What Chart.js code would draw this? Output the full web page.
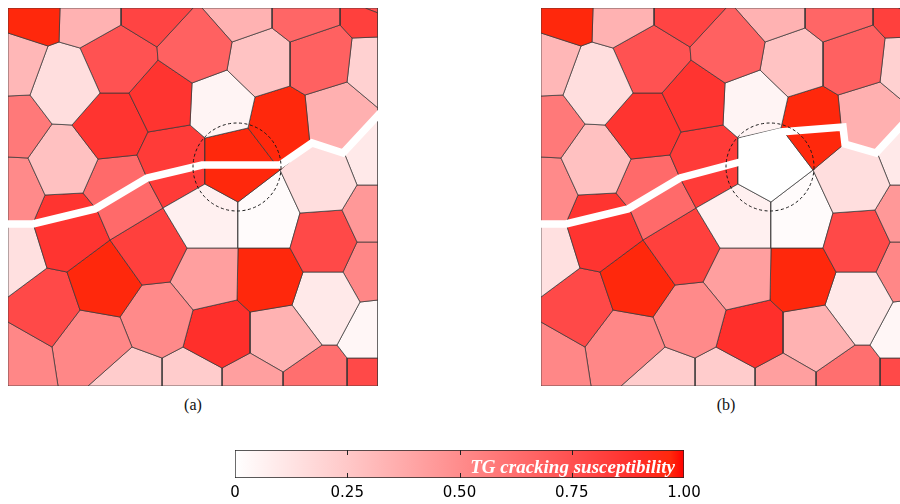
<!DOCTYPE html>
<html>
<head>
<meta charset="utf-8">
<title>TG cracking susceptibility</title>
<script src="https://cdn.jsdelivr.net/npm/chart.js@4.4.1/dist/chart.umd.min.js"></script>
<style>
  html, body { margin: 0; padding: 0; background: #fff; }
  body { width: 900px; height: 504px; overflow: hidden; position: relative; }
  canvas { position: absolute; }
  #panelA { left: 4px; top: 4px; }
  #panelB { left: 537px; top: 4px; }
  #colorbar { left: 215px; top: 444px; }
  .caption { position: absolute; top: 396px; width: 40px; text-align: center;
             font: 16px/18px "Liberation Serif", "DejaVu Serif", serif; color: #111; }
  #capA { left: 173px; }
  #capB { left: 706px; }
  #cbTitle { position: absolute; right: 225px; top: 457px; white-space: nowrap;
             font: italic bold 19px/19px "Liberation Serif", serif; color: #fff; }
</style>
</head>
<body>
<canvas id="panelA" width="378" height="386"></canvas>
<canvas id="panelB" width="378" height="386"></canvas>
<canvas id="colorbar" width="500" height="56"></canvas>
<div class="caption" id="capA">(a)</div>
<div class="caption" id="capB">(b)</div>
<div id="cbTitle">TG cracking susceptibility</div>
<script>
// Grain outlines of the polycrystal (x right, y down, same units in both panels)
const grainOutlines = [
  [[0,0],[52,0],[51,34],[40,38],[0,25]],
  [[52,0],[113,0],[113,17],[72,40],[51,34]],
  [[113,0],[185,0],[149,39],[113,17]],
  [[185,0],[194,0],[224,34],[219,62],[184,75],[150,52],[149,39]],
  [[194,0],[264,0],[264,20],[224,34]],
  [[264,0],[332,0],[332,17],[282,34],[264,20]],
  [[332,0],[357,0],[370,5],[370,29],[344,30],[332,17]],
  [[357,0],[370,0],[370,5]],
  [[0,25],[40,38],[22,87],[0,88]],
  [[40,38],[51,34],[72,40],[92,85],[64,117],[44,116],[22,87]],
  [[72,40],[113,17],[149,39],[150,52],[121,85],[92,85]],
  [[150,52],[184,75],[182,117],[140,124],[121,85]],
  [[224,34],[264,20],[282,34],[282,78],[247,89],[219,62]],
  [[282,34],[332,17],[344,30],[339,74],[297,87],[282,78]],
  [[344,30],[370,29],[370,100],[339,74]],
  [[184,75],[219,62],[247,89],[240,120],[197,130],[182,117]],
  [[247,89],[282,78],[297,87],[302,137],[272,162],[240,120]],
  [[197,130],[240,120],[272,162],[230,194],[197,176]],
  [[297,87],[339,74],[370,100],[370,106],[335,142],[302,137]],
  [[302,137],[335,142],[349,177],[334,202],[292,205],[272,162]],
  [[335,142],[370,106],[370,177],[349,177]],
  [[349,177],[370,177],[370,234],[349,234],[334,202]],
  [[292,205],[334,202],[349,234],[335,264],[295,264],[282,240]],
  [[230,194],[272,162],[292,205],[282,240],[230,240]],
  [[155,200],[197,176],[230,194],[230,240],[179,240]],
  [[140,124],[182,117],[197,130],[197,176],[155,200],[139,170],[129,147]],
  [[92,85],[121,85],[140,124],[129,147],[90,151],[64,117]],
  [[0,88],[22,87],[44,116],[20,150],[0,149]],
  [[44,116],[64,117],[90,151],[75,185],[37,187],[20,150]],
  [[0,149],[20,150],[37,187],[25,215],[0,214]],
  [[90,151],[129,147],[139,170],[155,200],[102,232],[89,202],[75,185]],
  [[37,187],[75,185],[89,202],[102,232],[59,264],[39,260],[25,215]],
  [[0,214],[25,215],[39,260],[0,289]],
  [[102,232],[155,200],[179,240],[162,274],[134,277]],
  [[59,264],[102,232],[134,277],[112,309],[72,302]],
  [[0,289],[39,260],[59,264],[72,302],[44,339],[0,314]],
  [[0,314],[44,339],[50,378],[0,378]],
  [[44,339],[72,302],[112,309],[124,339],[80,378],[50,378]],
  [[112,309],[134,277],[162,274],[185,302],[175,339],[154,350],[124,339]],
  [[124,339],[154,350],[154,378],[80,378]],
  [[162,274],[179,240],[230,240],[229,292],[185,302]],
  [[230,240],[282,240],[295,264],[284,297],[242,304],[229,292]],
  [[185,302],[229,292],[242,304],[242,345],[214,360],[175,339]],
  [[175,339],[214,360],[214,378],[154,378],[154,350]],
  [[214,360],[242,345],[275,364],[275,378],[214,378]],
  [[242,304],[284,297],[314,337],[275,364],[242,345]],
  [[295,264],[335,264],[352,294],[329,337],[314,337],[284,297]],
  [[349,234],[370,234],[370,292],[352,294],[335,264]],
  [[352,294],[370,292],[370,350],[339,350],[329,337]],
  [[275,364],[314,337],[329,337],[339,350],[339,378],[275,378]],
  [[339,350],[370,350],[370,378],[339,378]]
];

// TG cracking susceptibility of each grain, case (a)
const susceptibilityA = [
  0.97, 0.34, 0.80, 0.68, 0.34, 0.66, 0.82, 0.75, 0.32, 0.15,
  0.74, 0.87, 0.27, 0.68, 0.21, 0.05, 0.97, 0.97, 0.35, 0.15,
  0.10, 0.45, 0.78, 0.02, 0.07, 0.84, 0.87, 0.58, 0.28, 0.51,
  0.64, 0.87, 0.14, 0.82, 0.97, 0.78, 0.52, 0.52, 0.51, 0.23,
  0.42, 0.97, 0.89, 0.23, 0.42, 0.34, 0.10, 0.52, 0.04, 0.62,
  0.78
];

// Case (b): the grain inside the ring is not susceptible
const susceptibilityB = [
  0.97, 0.34, 0.80, 0.68, 0.34, 0.66, 0.82, 0.75, 0.32, 0.15,
  0.74, 0.87, 0.27, 0.68, 0.21, 0.05, 0.97, 0.00, 0.35, 0.15,
  0.10, 0.45, 0.78, 0.02, 0.07, 0.84, 0.87, 0.58, 0.28, 0.51,
  0.64, 0.87, 0.14, 0.82, 0.97, 0.78, 0.52, 0.52, 0.51, 0.23,
  0.42, 0.97, 0.89, 0.23, 0.42, 0.34, 0.10, 0.52, 0.04, 0.62,
  0.78
];

// Crack paths
const crackPathA = [[-6,216],[25,216],[87,201],[92,198],[139,170],[194,157],[272,157],[304,135],[335,145],[376,101]];
const crackPathB1 = [[-6,216],[25,216],[87,201],[92,198],[139,170],[199,154]];
const crackPathB2 = [[199,134],[239,124],[302,119],[304,136],[335,145],[376,101]];

// Ring around the grain of interest (centre and radius)
const ringCentre = [229, 159];
const ringRadius = 44;

// Colour bar ticks
const colorbarTicks = [0, 0.25, 0.5, 0.75, 1];
const colorbarTickLabels = ['0', '0.25', '0.50', '0.75', '1.00'];

// White-to-red colour map
const colormapStops = [
  [0, [255,255,255]], [0.25, [255,200,200]], [0.5, [255,140,140]],
  [0.75, [255,80,80]], [0.9, [255,45,40]], [0.97, [255,40,12]], [1, [255,0,0]]
];

function susceptibilityColor(v) {
  for (let i = 1; i < colormapStops.length; i++) {
    const [v1, c1] = colormapStops[i];
    if (v <= v1) {
      const [v0, c0] = colormapStops[i - 1];
      const t = (v - v0) / (v1 - v0);
      const c = c0.map((a, k) => Math.round(a + (c1[k] - a) * t));
      return `rgb(${c[0]},${c[1]},${c[2]})`;
    }
  }
  return 'rgb(255,0,0)';
}

const toPoints = path => path.map(([x, y]) => ({ x, y }));

function grainDatasets(values) {
  return grainOutlines.map((outline, i) => ({
    data: toPoints(outline.concat([outline[0]])),
    backgroundColor: susceptibilityColor(values[i]),
    borderColor: 'rgba(55,55,55,0.9)',
    borderWidth: 0.8,
    fill: 'shape',
    pointRadius: 0,
    tension: 0,
    order: 2
  }));
}

function crackDataset(path) {
  return {
    data: toPoints(path),
    borderColor: '#ffffff',
    borderWidth: 7.5,
    borderJoinStyle: 'miter',
    borderCapStyle: 'butt',
    fill: false,
    pointRadius: 0,
    tension: 0,
    clip: 1,
    order: 0
  };
}

// Dashed ring drawn through the panel's scales
const ringPlugin = {
  id: 'ring',
  afterDatasetsDraw(chart, args, opts) {
    const { ctx, scales: { x, y } } = chart;
    const cx = x.getPixelForValue(opts.centre[0]);
    const cy = y.getPixelForValue(opts.centre[1]);
    const r = x.getPixelForValue(opts.centre[0] + opts.radius) - cx;
    ctx.save();
    ctx.setLineDash([3, 2.5]);
    ctx.lineWidth = 1;
    ctx.strokeStyle = '#1a1a1a';
    ctx.beginPath();
    ctx.arc(cx, cy, r, 0, Math.PI * 2);
    ctx.stroke();
    ctx.restore();
  }
};

function makePanel(id, values, cracks) {
  return new Chart(document.getElementById(id), {
    type: 'line',
    data: { datasets: cracks.map(crackDataset).concat(grainDatasets(values)) },
    options: {
      responsive: false,
      animation: false,
      events: [],
      layout: { padding: 4 },
      scales: {
        x: { type: 'linear', min: 0, max: 370, display: false },
        y: { type: 'linear', min: 0, max: 378, reverse: true, display: false }
      },
      plugins: {
        legend: { display: false },
        tooltip: { enabled: false },
        ring: { centre: ringCentre, radius: ringRadius }
      }
    },
    plugins: [ringPlugin]
  });
}

makePanel('panelA', susceptibilityA, [crackPathA]);
makePanel('panelB', susceptibilityB, [crackPathB1, crackPathB2]);

// Colour bar
const innerTicksPlugin = {
  id: 'innerTicks',
  afterDatasetsDraw(chart) {
    const { ctx, chartArea: a, scales: { x } } = chart;
    ctx.save();
    ctx.strokeStyle = '#222';
    ctx.lineWidth = 1;
    colorbarTicks.slice(1, -1).forEach(v => {
      const px = Math.round(x.getPixelForValue(v)) + 0.5;
      ctx.beginPath();
      ctx.moveTo(px, a.top); ctx.lineTo(px, a.top + 5);
      ctx.moveTo(px, a.bottom); ctx.lineTo(px, a.bottom - 5);
      ctx.stroke();
    });
    ctx.restore();
  }
};

new Chart(document.getElementById('colorbar'), {
  type: 'bar',
  data: {
    labels: ['susceptibility'],
    datasets: [{
      data: [1],
      backgroundColor(c) {
        const area = c.chart.chartArea;
        if (!area) return '#ff8080';
        const g = c.chart.ctx.createLinearGradient(area.left, 0, area.right, 0);
        colormapStops.forEach(([v, col]) => g.addColorStop(v, `rgb(${col[0]},${col[1]},${col[2]})`));
        return g;
      },
      borderColor: '#222',
      borderWidth: 1,
      borderSkipped: false,
      barPercentage: 1,
      categoryPercentage: 1
    }]
  },
  options: {
    indexAxis: 'y',
    responsive: false,
    animation: false,
    events: [],
    layout: { padding: { left: 20, right: 31, top: 6, bottom: 0 } },
    scales: {
      y: { display: false },
      x: {
        min: 0, max: 1,
        position: 'bottom',
        grid: { display: false },
        border: { display: false },
        afterBuildTicks(scale) { scale.ticks = colorbarTicks.map(v => ({ value: v })); },
        ticks: {
          autoSkip: false, maxRotation: 0, padding: -2, color: '#000',
          font: { family: '"DejaVu Sans", Arial, sans-serif', size: 15 },
          callback: (value, index) => colorbarTickLabels[index]
        }
      }
    },
    plugins: { legend: { display: false }, tooltip: { enabled: false } }
  },
  plugins: [innerTicksPlugin]
});
</script>
</body>
</html>
